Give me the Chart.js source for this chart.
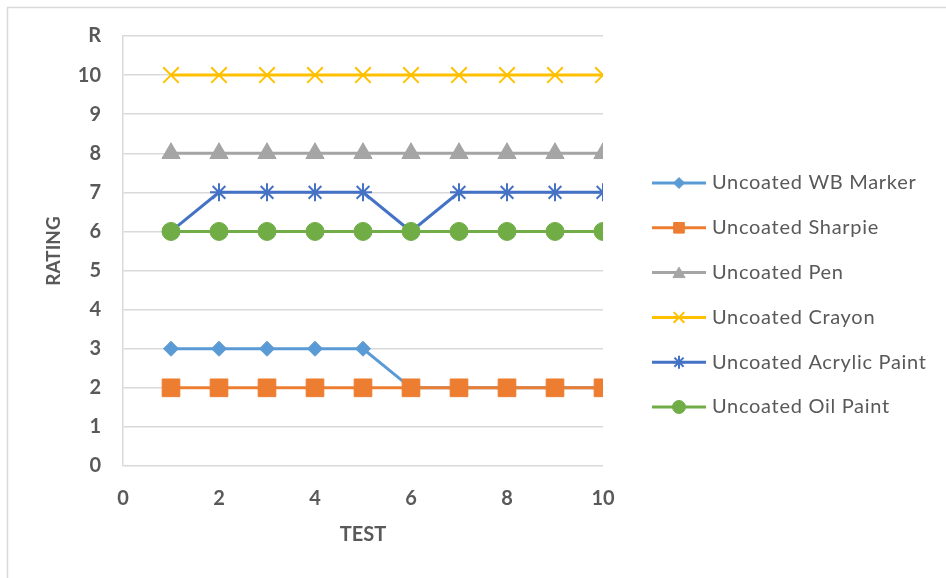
<!DOCTYPE html>
<html>
<head>
<meta charset="utf-8">
<script src="https://cdn.jsdelivr.net/npm/chart.js@4/dist/chart.umd.min.js"></script>
<style>
  body { margin: 0; background: #fff; }
  #wrap { position: relative; width: 946px; height: 578px; }
</style>
</head>
<body>
<div id="wrap"><canvas id="myChart"></canvas></div>
<script>
// tests 1..10
var tests = [1, 2, 3, 4, 5, 6, 7, 8, 9, 10];
var seriesNames = ["Uncoated WB Marker", "Uncoated Sharpie", "Uncoated Pen",
                   "Uncoated Crayon", "Uncoated Acrylic Paint", "Uncoated Oil Paint"];
var wbMarker = [3, 3, 3, 3, 3, 2, 2, 2, 2, 2];
var sharpie  = [2, 2, 2, 2, 2, 2, 2, 2, 2, 2];
var pen      = [8, 8, 8, 8, 8, 8, 8, 8, 8, 8];
var crayon   = [10, 10, 10, 10, 10, 10, 10, 10, 10, 10];
var acrylic  = [6, 7, 7, 7, 7, 6, 7, 7, 7, 7];
var oilPaint = [6, 6, 6, 6, 6, 6, 6, 6, 6, 6];
var xTicks = [0, 2, 4, 6, 8, 10];
var yTicks = [0, 1, 2, 3, 4, 5, 6, 7, 8, 9, 10, 11];
var yTickLabels = ["0", "1", "2", "3", "4", "5", "6", "7", "8", "9", "10", "R"];

var allValues = [wbMarker, sharpie, pen, crayon, acrylic, oilPaint];
var colors = ['#5B9BD5', '#ED7D31', '#A5A5A5', '#FFC000', '#4472C4', '#70AD47'];
var styles = ['rectRot', 'rect', 'triangle', 'crossRot', 'star', 'circle'];
var radii = [7.5, 12.5, 10.5, 11, 9, 9];
var legendRadii = [5.5, 7.5, 7, 7.5, 6.5, 6.5];
var markerWidths = [1, 1, 1, 2, 2, 1];

function points(vals) {
    return vals.map(function (v, i) { return {x: tests[i], y: v}; });
}

var datasets = allValues.map(function (vals, i) {
    return {
        label: seriesNames[i],
        data: points(vals),
        borderColor: colors[i],
        backgroundColor: colors[i],
        borderWidth: 3,
        pointStyle: styles[i],
        pointRadius: radii[i],
        pointHoverRadius: radii[i],
        pointBorderWidth: markerWidths[i],
        pointBorderColor: colors[i],
        pointBackgroundColor: colors[i],
        order: allValues.length - i   // later series on top, like the original
    };
});

var textColor = '#595959';
var fontFamily = 'Lato, "Liberation Sans", sans-serif';

// frame round the chart + hand drawn legend (line with marker in the middle)
var extras = {
    id: 'extras',
    beforeDraw: function (chart) {
        var ctx = chart.ctx;
        ctx.save();
        ctx.strokeStyle = '#d9d9d9';
        ctx.lineWidth = 1.5;
        ctx.strokeRect(7.5, 7.5, 1000, 1000);
        ctx.restore();
    },
    afterDraw: function (chart) {
        var ctx = chart.ctx;
        ctx.save();
        chart.data.datasets.forEach(function (ds, i) {
            var y = 183 + i * 44.8;
            ctx.strokeStyle = ds.borderColor;
            ctx.lineWidth = 3;
            ctx.beginPath();
            ctx.moveTo(652, y);
            ctx.lineTo(706, y);
            ctx.stroke();
            ctx.fillStyle = ds.backgroundColor;
            ctx.lineWidth = ds.pointBorderWidth;
            Chart.helpers.drawPoint(ctx, {
                pointStyle: ds.pointStyle, rotation: 0,
                radius: legendRadii[i], borderWidth: ds.pointBorderWidth
            }, 679, y + (ds.pointStyle === 'triangle' ? 1.5 : 0));
            ctx.fillStyle = textColor;
            ctx.font = '20px ' + fontFamily;
            ctx.letterSpacing = '0.7px';
            ctx.textBaseline = 'middle';
            ctx.fillText(ds.label, 712, y);
        });
        ctx.restore();
    }
};

var ctx = document.getElementById("myChart").getContext('2d');
var myChart = new Chart(ctx, {
    type: 'line',
    data: {datasets: datasets},
    plugins: [extras],
    options: {
        responsive: true,
        maintainAspectRatio: false,
        animation: false,
        layout: {padding: {left: 0, top: 36, right: 343, bottom: 0}},
        plugins: {legend: {display: false}, tooltip: {enabled: false}},
        scales: {
            x: {
                type: 'linear',
                min: 0, max: 10,
                afterBuildTicks: function (scale) {
                    scale.ticks = xTicks.map(function (v) { return {value: v}; });
                },
                afterFit: function (scale) { scale.height = 112; },
                grid: {display: false, drawTicks: false},
                border: {display: false},
                ticks: {color: textColor, padding: 21, maxRotation: 0,
                        font: {family: fontFamily, size: 20, weight: 'bold'}},
                title: {display: true, text: 'TEST', color: textColor,
                        padding: {top: 0, bottom: 31},
                        font: {family: fontFamily, size: 20, weight: 'bold'}}
            },
            y: {
                type: 'linear',
                min: 0, max: 11,
                afterBuildTicks: function (scale) {
                    scale.ticks = yTicks.map(function (v) { return {value: v}; });
                },
                afterFit: function (scale) { scale.width = 123; },
                grid: {color: '#d9d9d9', lineWidth: 1.5, drawTicks: false},
                border: {display: true, color: '#d9d9d9', width: 1.5},
                ticks: {color: textColor, padding: 22,
                        font: {family: fontFamily, size: 20, weight: 'bold'},
                        callback: function (value) { return yTickLabels[yTicks.indexOf(value)]; }},
                title: {display: true, text: 'RATING', color: textColor,
                        padding: {top: 42, bottom: 0},
                        font: {family: fontFamily, size: 19, weight: 'bold'}}
            }
        }
    }
});
</script>
</body>
</html>
